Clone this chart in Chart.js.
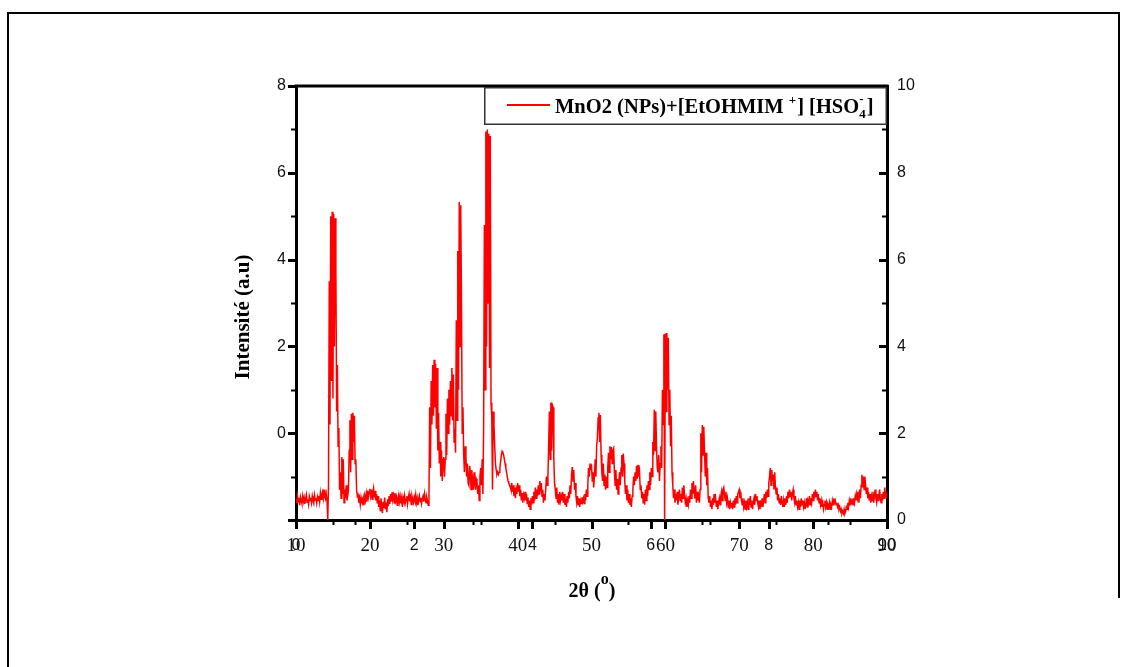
<!DOCTYPE html>
<html>
<head>
<meta charset="utf-8">
<script src="https://cdn.jsdelivr.net/npm/chart.js"></script>
<style>
    body { margin: 0; background: #fff; }
    #wrap { position: relative; width: 1130px; height: 667px; }
    .edge { position: absolute; background: #000; }
    #edgeTop { left: 7px; top: 12px; width: 1113px; height: 2px; }
    #edgeLeft { left: 7px; top: 12px; width: 2px; height: 655px; }
    #edgeRight { left: 1118px; top: 12px; width: 2px; height: 586px; }
</style>
</head>
<body>
<div id="wrap">
    <div class="edge" id="edgeTop"></div>
    <div class="edge" id="edgeLeft"></div>
    <div class="edge" id="edgeRight"></div>
    <canvas id="myChart" width="1130" height="667"></canvas>
</div>

<script>
    // 2theta grid of the scan (degrees)
    const twoThetaStart = 10;
    const twoThetaStep = 0.1;

    // intensity, one row per degree (x.0 .. x.9)
    const intensity = [
        -1.52,-1.61,-1.44,-1.58,-1.49,-1.66,-1.47,-1.55,-1.62,-1.45, // 10
        -1.57,-1.48,-1.63,-1.51,-1.42,-1.59,-1.53,-1.64,-1.46,-1.55, // 11
        -1.49,-1.60,-1.45,-1.56,-1.62,-1.43,-1.54,-1.50,-1.61,-1.47, // 12
        -1.55,-1.44,-1.58,-1.38,-1.52,-1.41,-1.35,-1.49,-1.30,-1.46, // 13
        -1.52,-1.40,-1.55,-2.00,-1.20,3.50,0.20,5.00,1.20,5.10,      // 14
        0.80,5.05,2.00,4.95,3.75,0.50,1.57,-0.30,0.12,-1.30,         // 15
        -0.90,-1.50,-0.55,-1.40,-0.60,-1.60,-1.30,-1.50,-1.20,-1.55, // 16
        -1.45,-1.30,-0.40,0.30,-0.90,0.45,-0.60,0.47,-0.20,0.40,     // 17
        -0.70,-0.60,-1.30,-1.45,-1.42,-1.60,-1.50,-1.65,-1.48,-1.58, // 18
        -1.62,-1.50,-1.66,-1.45,-1.55,-1.40,-1.58,-1.32,-1.47,-1.36, // 19
        -1.28,-1.44,-1.30,-1.52,-1.35,-1.26,-1.48,-1.33,-1.55,-1.40, // 20
        -1.62,-1.45,-1.70,-1.55,-1.78,-1.50,-1.66,-1.84,-1.58,-1.72, // 21
        -1.48,-1.75,-1.60,-1.82,-1.52,-1.68,-1.45,-1.63,-1.40,-1.57, // 22
        -1.36,-1.52,-1.44,-1.61,-1.38,-1.55,-1.47,-1.66,-1.50,-1.42, // 23
        -1.58,-1.46,-1.62,-1.50,-1.70,-1.48,-1.56,-1.44,-1.60,-1.52, // 24
        -1.45,-1.63,-1.50,-1.40,-1.57,-1.48,-1.64,-1.45,-1.53,-1.60, // 25
        -1.47,-1.55,-1.42,-1.60,-1.50,-1.66,-1.52,-1.44,-1.58,-1.49, // 26
        -1.62,-1.51,-1.45,-1.58,-1.40,-1.52,-1.60,-1.48,-1.56,-1.66, // 27
        -1.45,0.60,-0.80,1.20,0.20,1.57,0.40,1.69,0.60,1.60,         // 28
        0.10,1.50,-0.40,0.47,-0.70,-0.20,-1.00,-0.40,-1.10,-0.60,    // 29
        -0.55,-1.00,-0.60,0.45,-0.50,0.80,0.00,1.00,0.20,1.20,       // 30
        0.40,1.50,0.30,1.35,-0.20,0.10,-0.45,2.60,0.30,4.20,         // 31
        1.00,5.33,2.00,5.25,3.00,0.00,0.60,-0.50,-0.90,-0.30,        // 32
        -0.55,-1.00,-0.70,-1.15,-1.20,-0.75,-0.90,-1.30,-0.85,-1.10, // 33
        -1.30,-0.90,-1.15,-1.30,-1.05,-1.10,-1.40,-1.20,-1.55,-1.00, // 34
        -0.80,-1.20,-0.60,-1.40,0.20,4.80,1.00,6.95,2.00,7.00,       // 35
        3.00,6.90,1.50,6.85,0.70,0.40,-1.30,0.50,0.20,-0.30,         // 36
        -0.70,-0.85,-0.95,-0.90,-0.95,-0.90,-0.80,-0.65,-0.50,-0.42, // 37
        -0.45,-0.50,-0.60,-0.70,-0.80,-0.90,-1.00,-1.10,-1.15,-1.20, // 38
        -1.23,-1.30,-1.15,-1.35,-1.20,-1.45,-1.25,-1.50,-1.30,-1.40, // 39
        -1.15,-1.35,-1.20,-1.45,-1.30,-1.55,-1.38,-1.60,-1.42,-1.50, // 40
        -1.35,-1.55,-1.40,-1.62,-1.48,-1.70,-1.55,-1.75,-1.50,-1.65, // 41
        -1.45,-1.60,-1.35,-1.55,-1.25,-1.50,-1.30,-1.45,-1.20,-1.40, // 42
        -1.10,-1.35,-1.15,-1.45,-1.30,-1.60,-1.40,-1.55,-1.30,-1.00, // 43
        -1.20,-1.00,-0.30,0.50,-0.60,0.70,-0.40,0.65,0.60,-0.60,     // 44
        -1.15,-1.30,-1.50,-1.25,-1.60,-1.40,-1.65,-1.35,-1.55,-1.45, // 45
        -1.55,-1.35,-1.60,-1.40,-1.65,-1.50,-1.70,-1.45,-1.60,-1.35, // 46
        -1.50,-1.20,-1.40,-0.95,-0.78,-1.10,-0.85,-1.30,-1.15,-1.45, // 47
        -1.60,-1.45,-1.65,-1.50,-1.70,-1.55,-1.62,-1.48,-1.58,-1.50, // 48
        -1.62,-1.40,-1.55,-1.30,-1.45,-1.20,-0.80,-1.00,-0.70,-0.85, // 49
        -0.72,-1.10,-0.90,-1.25,-0.95,-0.60,-1.00,-0.30,-0.10,0.35,  // 50
        0.47,-0.20,0.42,-0.50,-0.90,-1.10,-0.70,-1.20,-0.95,-1.30,   // 51
        -1.00,-1.25,-0.80,-0.45,-0.90,-0.30,-0.60,-0.32,-0.70,-0.40, // 52
        -0.35,-0.90,-1.20,-0.85,-1.30,-1.05,-1.40,-1.10,-0.90,-1.20, // 53
        -0.80,-0.50,-1.00,-0.47,-0.70,-1.10,-1.40,-1.20,-1.55,-1.30, // 54
        -1.60,-1.40,-1.65,-1.50,-1.70,-1.45,-1.30,-1.00,-1.20,-0.90, // 55
        -1.10,-0.75,-1.05,-0.73,-1.00,-0.90,-1.30,-1.20,-1.50,-1.35, // 56
        -1.60,-1.40,-1.65,-1.30,-1.55,-1.20,-1.45,-1.10,-1.30,-0.90, // 57
        -1.20,-0.80,-1.00,-0.20,-0.50,0.54,-0.40,0.50,-0.30,-0.80,   // 58
        -0.90,-0.50,-1.10,-0.70,-0.30,-0.80,1.00,0.20,2.28,-2.00,    // 59
        2.30,0.50,2.31,1.00,2.20,0.20,1.00,-0.30,0.40,-0.90,         // 60
        -1.20,-1.50,-1.30,-1.60,-1.40,-1.55,-1.35,-1.65,-1.45,-1.30, // 61
        -1.55,-1.40,-1.60,-1.25,-1.50,-1.20,-1.45,-1.60,-1.50,-1.70, // 62
        -1.55,-1.65,-1.45,-1.60,-1.30,-1.50,-1.15,-1.40,-1.10,-1.35, // 63
        -1.50,-1.20,-1.60,-1.35,-1.55,-1.45,-1.60,-1.30,0.00,-0.90,  // 64
        0.19,-0.50,0.15,-0.43,-1.00,-0.45,-1.20,-0.80,-1.50,-1.60,   // 65
        -1.45,-1.70,-1.55,-1.75,-1.50,-1.65,-1.40,-1.60,-1.50,-1.70, // 66
        -1.55,-1.75,-1.60,-1.50,-1.65,-1.45,-1.35,-1.55,-1.30,-1.25, // 67
        -1.40,-1.55,-1.35,-1.60,-1.50,-1.70,-1.55,-1.75,-1.60,-1.70, // 68
        -1.60,-1.75,-1.55,-1.70,-1.50,-1.65,-1.45,-1.60,-1.40,-1.35, // 69
        -1.30,-1.50,-1.35,-1.55,-1.65,-1.50,-1.70,-1.60,-1.75,-1.55, // 70
        -1.70,-1.60,-1.75,-1.50,-1.65,-1.45,-1.70,-1.55,-1.75,-1.60, // 71
        -1.50,-1.65,-1.40,-1.55,-1.45,-1.60,-1.70,-1.55,-1.75,-1.60, // 72
        -1.65,-1.50,-1.70,-1.55,-1.40,-1.60,-1.35,-1.50,-1.30,-1.45, // 73
        -1.15,-1.00,-0.80,-1.20,-0.85,-1.10,-0.95,-1.30,-0.90,-1.25, // 74
        -1.40,-1.25,-1.55,-1.40,-1.60,-1.50,-1.65,-1.45,-1.60,-1.70, // 75
        -1.55,-1.70,-1.50,-1.65,-1.45,-1.60,-1.35,-1.50,-1.30,-1.45, // 76
        -1.35,-1.55,-1.40,-1.30,-1.50,-1.60,-1.45,-1.65,-1.55,-1.70, // 77
        -1.60,-1.75,-1.55,-1.70,-1.50,-1.65,-1.55,-1.70,-1.60,-1.75, // 78
        -1.65,-1.50,-1.70,-1.55,-1.60,-1.45,-1.65,-1.50,-1.60,-1.40, // 79
        -1.55,-1.35,-1.50,-1.30,-1.45,-1.35,-1.55,-1.40,-1.60,-1.50, // 80
        -1.65,-1.55,-1.70,-1.60,-1.75,-1.65,-1.55,-1.70,-1.60,-1.75, // 81
        -1.65,-1.70,-1.60,-1.75,-1.65,-1.70,-1.55,-1.65,-1.50,-1.60, // 82
        -1.55,-1.65,-1.60,-1.70,-1.65,-1.75,-1.70,-1.80,-1.75,-1.85, // 83
        -1.80,-1.85,-1.75,-1.85,-1.80,-1.70,-1.75,-1.60,-1.70,-1.55, // 84
        -1.65,-1.50,-1.60,-1.55,-1.65,-1.50,-1.60,-1.45,-1.55,-1.40, // 85
        -1.50,-1.35,-1.60,-1.30,-1.50,-1.20,-0.96,-1.25,-1.00,-1.30, // 86
        -1.00,-1.20,-1.40,-1.25,-1.50,-1.35,-1.55,-1.40,-1.60,-1.45, // 87
        -1.55,-1.35,-1.60,-1.45,-1.30,-1.50,-1.60,-1.40,-1.55,-1.45, // 88
        -1.30,-1.50,-1.60,-1.40,-1.55,-1.35,-1.50,-1.25,-1.45,-1.40, // 89
        -1.50                                                        // 90
    ];

    // axis ranges and tick labels
    const xRange = [10, 90];
    const xTicks = [10, 20, 30, 40, 50, 60, 70, 80, 90];
    const x2Range = [0, 10];
    const x2Ticks = [0, 2, 4, 6, 8, 10];
    const yLeftRange = [-2, 8];
    const yLeftLabels = [0, 2, 4, 6, 8];
    const yRightRange = [0, 10];

    const seriesLabel = 'MnO2 (NPs)+[EtOHMIM +] [HSO4-]';
    const xTitle = '2θ';
    const yTitle = 'Intensité (a.u)';

    const SERIF = '"Liberation Serif", "Times New Roman", serif';
    const SANS = '"Liberation Sans", Arial, sans-serif';

    const points = intensity.map((v, i) => ({
        x: +(twoThetaStart + i * twoThetaStep).toFixed(1),
        y: v
    }));

    // ticks, frame, 2nd x labels, titles and legend drawn on top
    const decor = {
        id: 'decor',
        afterDraw(chart) {
            const c = chart.ctx;
            const a = chart.chartArea;
            const xs = chart.scales.x;
            const yl = chart.scales.y;
            const yr = chart.scales.y2;
            c.save();
            c.strokeStyle = '#000';

            // top edge of the box
            c.lineWidth = 3;
            c.beginPath();
            c.moveTo(a.left - 1.5, a.top);
            c.lineTo(a.right + 1.5, a.top);
            c.stroke();

            const tick = (x1, y1, x2, y2, w) => {
                c.lineWidth = w;
                c.beginPath();
                c.moveTo(x1, y1);
                c.lineTo(x2, y2);
                c.stroke();
            };

            // bottom axis 10..90
            for (let v = xRange[0]; v <= xRange[1]; v += 5) {
                const px = Math.round(xs.getPixelForValue(v)) + 0.5;
                const major = v % 10 === 0;
                tick(px, a.bottom, px, a.bottom + (major ? 9 : 5), major ? 3 : 2);
            }
            // second bottom axis 0..10 on the same line
            const x2px = v => xs.getPixelForValue(xRange[0] + (v - x2Range[0]) * (xRange[1] - xRange[0]) / (x2Range[1] - x2Range[0]));
            for (let v = x2Range[0]; v <= x2Range[1]; v += 1) {
                const px = Math.round(x2px(v)) + 0.5;
                const major = v % 2 === 0;
                tick(px, a.bottom, px, a.bottom + (major ? 9 : 5), major ? 3 : 2);
            }
            // left axis
            for (let v = yLeftRange[0]; v <= yLeftRange[1]; v += 1) {
                const py = Math.round(yl.getPixelForValue(v)) + 0.5;
                const major = v % 2 === 0;
                tick(a.left, py, a.left - (major ? 8 : 5), py, major ? 3 : 2);
            }
            // right axis, ticks inside
            for (let v = yRightRange[0]; v <= yRightRange[1]; v += 1) {
                const py = Math.round(yr.getPixelForValue(v)) + 0.5;
                const major = v % 2 === 0;
                tick(a.right, py, a.right - (major ? 8 : 5), py, major ? 3 : 2);
            }

            // labels of the second bottom axis
            c.fillStyle = '#111';
            c.font = '16px ' + SANS;
            c.textAlign = 'center';
            c.textBaseline = 'alphabetic';
            x2Ticks.forEach(v => c.fillText(String(v), x2px(v), 550));

            // x title: 2θ (°)
            c.fillStyle = '#000';
            c.textAlign = 'left';
            const p1 = xTitle + ' (';
            c.font = 'bold 20px ' + SERIF;
            const w1 = c.measureText(p1).width;
            const w3 = c.measureText(')').width;
            c.font = 'bold 16px ' + SERIF;
            const w2 = c.measureText('o').width;
            let tx = 592 - (w1 + w2 + w3) / 2;
            const base = 597;
            c.font = 'bold 20px ' + SERIF;
            c.fillText(p1, tx, base);
            tx += w1;
            c.font = 'bold 16px ' + SERIF;
            c.fillText('o', tx, base - 13);
            tx += w2;
            c.font = 'bold 20px ' + SERIF;
            c.fillText(')', tx, base);

            // y title
            c.save();
            c.translate(249, 317);
            c.rotate(-Math.PI / 2);
            c.font = 'bold 21px ' + SERIF;
            c.textAlign = 'center';
            c.fillText(yTitle, 0, 0);
            c.restore();

            // legend
            c.fillStyle = '#fff';
            c.fillRect(485, 88, 401, 36);
            c.strokeStyle = '#333';
            c.lineWidth = 1.5;
            c.strokeRect(484.75, 87.75, 401.5, 36.5);
            c.strokeStyle = chart.data.datasets[0].borderColor;
            c.lineWidth = 2;
            c.beginPath();
            c.moveTo(507, 105);
            c.lineTo(550, 105);
            c.stroke();

            c.fillStyle = '#000';
            c.textAlign = 'left';
            let lx = 555;
            const lb = 113;
            const part = (txt, size, dy) => {
                c.font = 'bold ' + size + 'px ' + SERIF;
                c.fillText(txt, lx, lb + dy);
                return c.measureText(txt).width;
            };
            lx += part('MnO2 (NPs)+[EtOHMIM ', 20.5, 0);
            lx += part('+', 13, -9) + 1;
            lx += part('] [HSO', 20.5, 0);
            const wSub = part('4', 13, 5);
            part('-', 13, -10);
            lx += wSub + 1;
            part(']', 20.5, 0);

            c.restore();
        }
    };

    const ctx = document.getElementById('myChart');

    new Chart(ctx, {
        type: 'scatter',
        data: {
            datasets: [{
                label: seriesLabel,
                data: points,
                showLine: true,
                borderColor: '#ff0000',
                borderWidth: 1.5,
                pointRadius: 0,
                tension: 0
            }]
        },
        options: {
            responsive: false,
            animation: false,
            events: [],
            layout: { padding: { top: 86, left: 0, right: 0, bottom: 0 } },
            plugins: {
                legend: { display: false },
                tooltip: { enabled: false }
            },
            scales: {
                x: {
                    type: 'linear',
                    position: 'bottom',
                    min: xRange[0],
                    max: xRange[1],
                    afterBuildTicks: s => { s.ticks = xTicks.map(v => ({ value: v })); },
                    ticks: {
                        color: '#111',
                        font: { family: SERIF, size: 19 },
                        padding: 15,
                        maxRotation: 0
                    },
                    grid: { display: true, drawOnChartArea: false, drawTicks: false },
                    border: { display: true, color: '#000', width: 3 },
                    afterFit: s => { s.height = 147; }
                },
                y: {
                    type: 'linear',
                    position: 'left',
                    min: yLeftRange[0],
                    max: yLeftRange[1],
                    afterBuildTicks: s => { s.ticks = yLeftLabels.map(v => ({ value: v })); },
                    ticks: {
                        color: '#111',
                        font: { family: SANS, size: 16 },
                        padding: 10
                    },
                    grid: { display: true, drawOnChartArea: false, drawTicks: false },
                    border: { display: true, color: '#000', width: 3 },
                    afterFit: s => { s.width = 296; }
                },
                y2: {
                    type: 'linear',
                    position: 'right',
                    min: yRightRange[0],
                    max: yRightRange[1],
                    ticks: {
                        stepSize: 2,
                        color: '#111',
                        font: { family: SANS, size: 16 },
                        padding: 10
                    },
                    grid: { display: true, drawOnChartArea: false, drawTicks: false },
                    border: { display: true, color: '#000', width: 3 },
                    afterFit: s => { s.width = 1130 - 887; }
                }
            }
        },
        plugins: [decor]
    });
</script>
</body>
</html>
